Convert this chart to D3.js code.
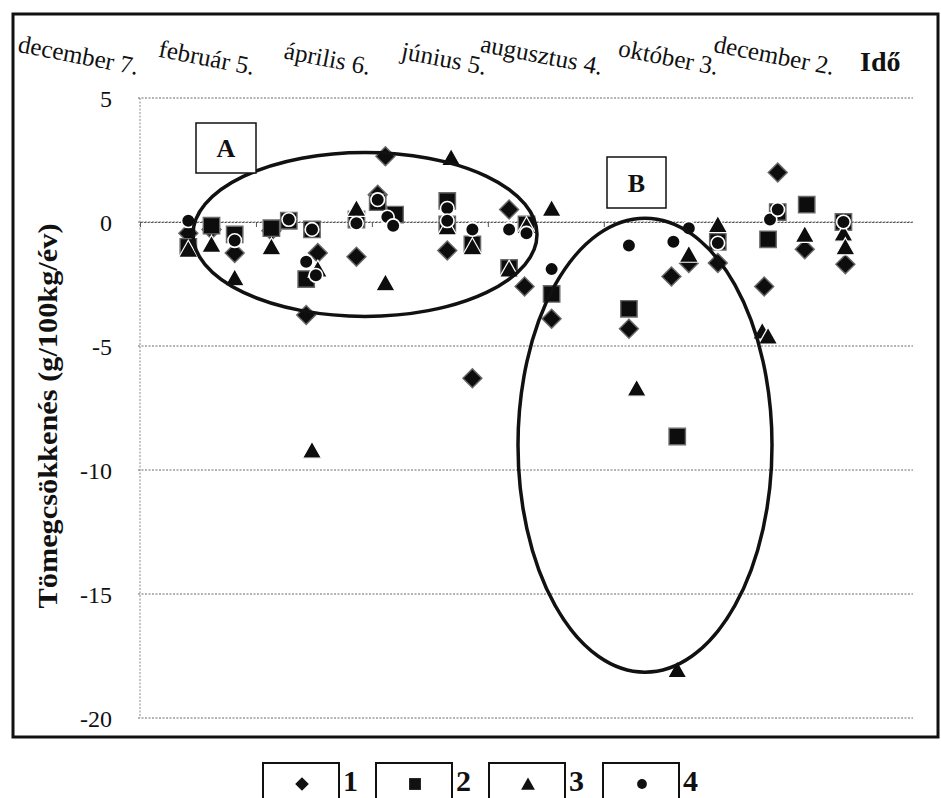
<!DOCTYPE html>
<html>
<head>
<meta charset="utf-8">
<script src="https://cdn.jsdelivr.net/npm/d3@7"></script>
<style>
  body { margin: 0; background: #fff; }
  svg { display: block; }
  text { font-family: "Liberation Serif", "Times New Roman", serif; fill: #111; }
</style>
</head>
<body>
<svg id="chart" width="941" height="798"></svg>
<script>
// Date axis: one tick every 60 days
const tickDates = ["2008-12-07", "2009-02-05", "2009-04-06", "2009-06-05", "2009-08-04", "2009-10-03", "2009-12-02"];
const tickLabels = ["december 7.", "február 5.", "április 6.", "június 5.", "augusztus 4.", "október 3.", "december 2."];
const yTicks = [5, 0, -5, -10, -15, -20];

// Mass loss (g/100kg/year) per sample, [date, value]
const series1 = [
  ["2009-01-01", -0.45], ["2009-01-13", -0.3], ["2009-01-25", -1.25], ["2009-02-13", -0.35],
  ["2009-03-03", -3.75], ["2009-03-09", -1.25], ["2009-03-29", -1.4], ["2009-04-09", 1.1],
  ["2009-04-13", 2.65], ["2009-05-15", -1.15], ["2009-05-28", -6.3], ["2009-06-16", 0.5],
  ["2009-06-24", -2.6], ["2009-07-08", -3.9], ["2009-08-17", -4.3], ["2009-09-08", -2.2],
  ["2009-09-17", -1.65], ["2009-10-02", -1.65], ["2009-10-26", -2.6], ["2009-11-02", 2.0],
  ["2009-11-16", -1.1], ["2009-12-07", -1.7]
];
const series2 = [
  ["2009-01-01", -1.0], ["2009-01-13", -0.15], ["2009-01-25", -0.5], ["2009-02-13", -0.25],
  ["2009-02-22", 0.05], ["2009-03-03", -2.3], ["2009-03-06", -0.3], ["2009-03-29", 0.1],
  ["2009-04-09", 0.8], ["2009-04-18", 0.3], ["2009-05-15", 0.85], ["2009-05-15", -0.1],
  ["2009-05-28", -0.9], ["2009-06-16", -1.85], ["2009-06-25", -0.1], ["2009-07-08", -2.9],
  ["2009-08-17", -3.5], ["2009-09-11", -8.65], ["2009-10-02", -0.8], ["2009-10-28", -0.7],
  ["2009-11-02", 0.4], ["2009-11-17", 0.7], ["2009-12-06", 0.0]
];
const series3 = [
  ["2009-01-01", -1.1], ["2009-01-13", -0.9], ["2009-01-25", -2.25], ["2009-02-13", -1.0],
  ["2009-03-06", -9.2], ["2009-03-09", -1.9], ["2009-03-29", 0.55], ["2009-04-13", -2.45],
  ["2009-05-15", -0.2], ["2009-05-17", 2.6], ["2009-05-28", -1.0], ["2009-06-16", -1.9],
  ["2009-06-25", -0.15], ["2009-07-08", 0.55], ["2009-08-21", -6.7], ["2009-09-11", -18.05],
  ["2009-09-17", -1.3], ["2009-10-02", -0.1], ["2009-10-25", -4.4], ["2009-10-28", -4.6],
  ["2009-11-16", -0.5], ["2009-12-06", -0.45], ["2009-12-07", -1.0]
];
const series4 = [
  ["2009-01-01", 0.05], ["2009-01-25", -0.75], ["2009-02-22", 0.1], ["2009-03-03", -1.6],
  ["2009-03-06", -0.3], ["2009-03-08", -2.15], ["2009-03-29", -0.05], ["2009-04-09", 0.9],
  ["2009-04-14", 0.2], ["2009-04-17", -0.15], ["2009-05-15", 0.55], ["2009-05-15", 0.05],
  ["2009-05-28", -0.3], ["2009-06-16", -0.3], ["2009-06-25", -0.45], ["2009-07-08", -1.9],
  ["2009-08-17", -0.95], ["2009-09-09", -0.8], ["2009-09-17", -0.25], ["2009-10-02", -0.85],
  ["2009-10-29", 0.1], ["2009-11-02", 0.5], ["2009-12-06", 0.0]
];
const seriesNames = ["1", "2", "3", "4"];
const seriesShapes = ["diamond", "square", "triangle", "circle"];
const allSeries = [series1, series2, series3, series4];

const parse = d3.timeParse("%Y-%m-%d");
const svg = d3.select("#chart");

const x = d3.scaleTime()
  .domain([parse("2008-12-07"), parse("2010-01-11")])
  .range([140, 913]);
const y = d3.scaleLinear().domain([-20, 5]).range([718, 98]);

// soft edge for the printed markers
const defs = svg.append("defs");
defs.append("filter").attr("id", "soft")
  .attr("x", "-20%").attr("y", "-20%").attr("width", "140%").attr("height", "140%")
  .append("feGaussianBlur").attr("stdDeviation", 0.6);

// outer frame
svg.append("rect")
  .attr("x", 13).attr("y", 14).attr("width", 925).attr("height", 723)
  .attr("fill", "none").attr("stroke", "#111").attr("stroke-width", 3);

// horizontal gridlines
svg.append("g").selectAll("line").data(yTicks).join("line")
  .attr("x1", 138).attr("x2", 913)
  .attr("y1", d => y(d)).attr("y2", d => y(d))
  .attr("stroke", "#6a6a6a").attr("stroke-width", 1)
  .attr("stroke-dasharray", "2,1.5");

// vertical value axis line
svg.append("line")
  .attr("x1", 140).attr("x2", 140).attr("y1", y(5)).attr("y2", y(-20))
  .attr("stroke", "#8a8a8a").attr("stroke-width", 1).attr("stroke-dasharray", "2,1.5");

// date axis sitting on the zero line
const xAxis = svg.append("g")
  .attr("transform", `translate(0,${y(0)})`)
  .call(d3.axisBottom(x).tickValues(tickDates.map(parse)).tickSize(5).tickSizeOuter(0).tickFormat(""));
xAxis.select(".domain").attr("stroke", "#555").attr("stroke-dasharray", "2,1.5");
xAxis.selectAll(".tick line").attr("stroke", "#555");

// value axis labels
const yAxis = svg.append("g")
  .attr("transform", "translate(140,0)")
  .call(d3.axisLeft(y).tickValues(yTicks).tickSize(0).tickPadding(28).tickFormat(d => String(d)));
yAxis.select(".domain").remove();
yAxis.selectAll("text")
  .attr("font-family", "Liberation Serif").attr("font-size", 24).attr("fill", "#111")
  .attr("dy", "0.35em");

// date labels along the top, slanted
svg.append("g").selectAll("text").data(tickDates).join("text")
  .attr("x", d => x(parse(d)) - 3)
  .attr("y", 75)
  .attr("text-anchor", "end")
  .attr("font-size", 25)
  .attr("transform", d => `rotate(11,${x(parse(d)) - 3},75)`)
  .text((d, i) => tickLabels[i]);

svg.append("text")
  .attr("x", 860).attr("y", 71)
  .attr("font-size", 28).attr("font-weight", "bold")
  .text("Idő");

// value axis title
svg.append("text")
  .attr("transform", "translate(57,416) rotate(-90)")
  .attr("text-anchor", "middle")
  .attr("font-size", 27).attr("font-weight", "bold")
  .attr("textLength", 385).attr("lengthAdjust", "spacingAndGlyphs")
  .text("Tömegcsökkenés (g/100kg/év)");

// marker shapes (k scales the plot-size marker)
function markerPath(shape, k) {
  switch (shape) {
    case "diamond": { const r = 9.5 * k; return `M0,${-r}L${r},0L0,${r}L${-r},0Z`; }
    case "square": { const h = 8.2 * k; return `M${-h},${-h}h${2 * h}v${2 * h}h${-2 * h}Z`; }
    case "triangle": { const w = 9.6 * k; return `M0,${-9 * k}L${w},${8 * k}L${-w},${8 * k}Z`; }
    default: {
      const r = 6.8 * k;
      return `M${r},0A${r},${r} 0 1,1 ${-r},0A${r},${r} 0 1,1 ${r},0Z`;
    }
  }
}
const markerStyle = {
  diamond: { stroke: "#6a6a6a", width: 1.4 },
  square: { stroke: "#6a6a6a", width: 1.4 },
  triangle: { stroke: "#fff", width: 1.2 },
  circle: { stroke: "#fff", width: 1.6 }
};

const marks = svg.append("g").attr("filter", "url(#soft)");
allSeries.forEach((data, i) => {
  const shape = seriesShapes[i];
  marks.append("g").selectAll("path").data(data).join("path")
    .attr("transform", d => `translate(${x(parse(d[0]))},${y(d[1])})`)
    .attr("d", markerPath(shape, 1))
    .attr("fill", "#111")
    .attr("stroke", markerStyle[shape].stroke)
    .attr("stroke-width", markerStyle[shape].width);
});

// highlighted groups
svg.append("ellipse")
  .attr("cx", 365).attr("cy", y(-0.5)).attr("rx", 172).attr("ry", 82)
  .attr("fill", "none").attr("stroke", "#111").attr("stroke-width", 3.5);
svg.append("ellipse")
  .attr("cx", 645).attr("cy", y(-9)).attr("rx", 127).attr("ry", 227)
  .attr("fill", "none").attr("stroke", "#111").attr("stroke-width", 3.5);

// group labels
[["A", 196, 123, 60, 50], ["B", 607, 157, 59, 51]].forEach(([t, bx, by, bw, bh]) => {
  svg.append("rect").attr("x", bx).attr("y", by).attr("width", bw).attr("height", bh)
    .attr("fill", "#fff").attr("stroke", "#111").attr("stroke-width", 1.5);
  svg.append("text").attr("x", bx + bw / 2).attr("y", by + bh / 2 + 9)
    .attr("text-anchor", "middle").attr("font-size", 26).attr("font-weight", "bold")
    .text(t);
});

// legend
const legendX = [263, 376, 489, 603];
const legend = svg.append("g");
seriesNames.forEach((name, i) => {
  const g = legend.append("g").attr("transform", `translate(${legendX[i]},763)`);
  g.append("rect").attr("width", 76).attr("height", 45)
    .attr("fill", "none").attr("stroke", "#111").attr("stroke-width", 2);
  g.append("path").attr("transform", "translate(39,21)")
    .attr("d", markerPath(seriesShapes[i], 0.72)).attr("fill", "#111");
  g.append("text").attr("x", 80).attr("y", 28)
    .attr("font-size", 30).attr("font-weight", "bold").text(name);
});
</script>
</body>
</html>
